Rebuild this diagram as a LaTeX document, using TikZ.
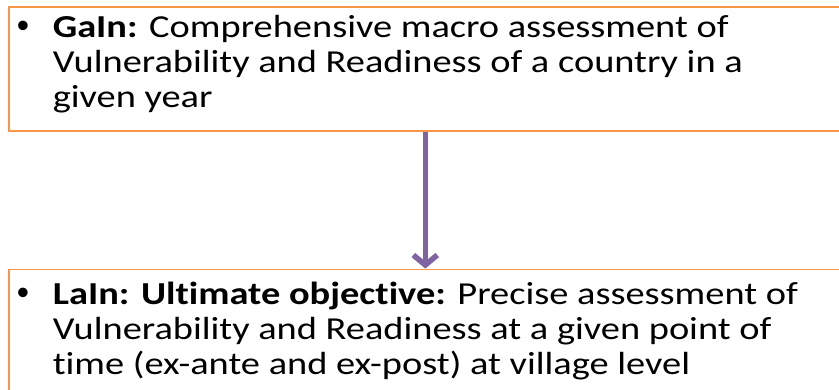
\documentclass[tikz,border=0pt]{standalone}
\usepackage{fontspec}
\setmainfont{Carlito}[FakeStretch=1.20, Ligatures=NoCommon]
\newfontfamily\bulletfont{Liberation Sans}
\usetikzlibrary{arrows.meta, positioning}
\definecolor{frame}{RGB}{247,150,70}
\definecolor{link}{RGB}{128,100,162}

% bullet with a hanging block of lines
\newcommand{\pointtext}[1]{\makebox[36pt][l]{\bulletfont\fontsize{35}{35}\selectfont\textbullet}\parbox[t]{781pt}{#1}}

\begin{document}
\begin{tikzpicture}[
    x=1pt, y=1pt,
    node distance=137pt,
    level/.style={draw=frame, line width=1.6pt, inner xsep=8pt, inner ysep=0pt,
        font=\fontsize{32}{35}\selectfont},
    flow/.style={-{Straight Barb[length=10pt, width=24pt]}, line width=5.5pt, color=link}
]
    \useasboundingbox (0,0) rectangle (839,389);

    \node[level, anchor=north west, text height=31pt, text depth=93pt] (gain) at (8,383)
        {\pointtext{\textbf{GaIn:} Comprehensive macro assessment of\\
        Vulnerability and Readiness of a country in a\\
        given year}};
    \node[level, below=of gain, text height=35pt, text depth=150pt] (lain)
        {\pointtext{\textbf{LaIn: Ultimate objective:} Precise assessment of\\
        Vulnerability and Readiness at a given point of\\
        time (ex-ante and ex-post) at village level}};

    % from country scale down to village scale
    \draw[flow] (gain) -- (lain);
\end{tikzpicture}
\end{document}
